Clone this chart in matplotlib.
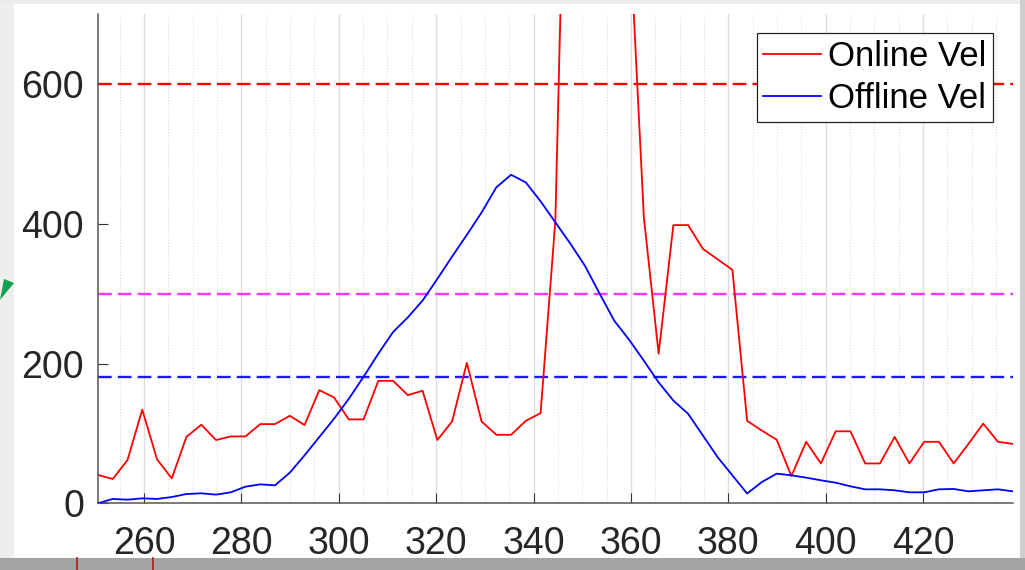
import matplotlib
matplotlib.use('Agg')
import matplotlib.pyplot as plt
from matplotlib.patches import Rectangle, Polygon
from matplotlib.lines import Line2D
from matplotlib.ticker import MultipleLocator

plt.rcParams['font.family'] = ['Liberation Sans', 'DejaVu Sans']

# sample positions
x = [250.55, 253.58, 256.61, 259.64, 262.67, 265.70, 268.73, 271.76, 274.79, 277.82,
     280.85, 283.88, 286.91, 289.94, 292.97, 296.00, 299.03, 302.06, 305.09, 308.12,
     311.15, 314.18, 317.21, 320.24, 323.27, 326.30, 329.33, 332.36, 335.39, 338.42,
     341.45, 344.48, 347.51, 350.54, 353.57, 356.60, 359.63, 362.66, 365.69, 368.72,
     371.75, 374.78, 377.81, 380.84, 383.87, 386.90, 389.93, 392.96, 395.99, 399.02,
     402.05, 405.08, 408.11, 411.14, 414.17, 417.20, 420.23, 423.26, 426.29, 429.32,
     432.35, 435.38, 438.41]

online_vel = [40.5, 34.8, 61.9, 134, 62.9, 35.7, 95.2, 112.4, 90.5, 95.7,
              95.7, 113.3, 113.3, 125.2, 111.9, 161.9, 151.4, 120, 120, 175.2,
              175.2, 154.8, 161, 90.5, 117, 201, 117, 98, 98, 118,
              129, 404, 1270, 1500, 1450, 1200, 835, 409, 214, 398,
              398, 364, 349, 334, 118, 104, 91, 39, 88, 57,
              103, 103, 57, 57, 95, 57, 88, 88, 57, 85,
              114, 88, 85]

offline_vel = [0, 6.2, 5.2, 7.1, 6.2, 9, 13.3, 14.3, 12.4, 15.7,
               23.8, 27.1, 25.7, 43.8, 68.6, 94.8, 121, 149.5, 181, 214,
               245, 266, 290, 321, 353, 384, 416, 452, 470, 459,
               432, 402, 372, 340, 300, 261, 234, 204, 173, 147,
               128, 97, 66, 40, 14, 30.5, 42.4, 40, 36.7, 32.9,
               29.5, 24.3, 20, 20, 18.6, 15.7, 15.7, 20, 20.5, 17.1,
               18.6, 20, 17.1]

# threshold lines
thresholds = [600, 300, 180]
threshold_colors = ['#ff0000', '#ff33ff', '#1a1aff']

fig = plt.figure(figsize=(10.25, 5.70), dpi=100, facecolor='white')

# screenshot frame bits
fig.patches.append(Rectangle((0, 0), 14 / 1025, 1, transform=fig.transFigure,
                             facecolor='#eeeeee', edgecolor='none', zorder=0))
fig.patches.append(Rectangle((0, 1 - 4 / 570), 1, 4 / 570, transform=fig.transFigure,
                             facecolor='#ececec', edgecolor='none', zorder=0))
fig.patches.append(Rectangle((1020 / 1025, 0), 5 / 1025, 1, transform=fig.transFigure,
                             facecolor='#cfcfcf', edgecolor='none', zorder=0))
fig.patches.append(Rectangle((0, 0), 1, 12 / 570, transform=fig.transFigure,
                             facecolor='#a3a3a3', edgecolor='none', zorder=0))
for px in [77, 153]:
    fig.lines.append(Line2D([px / 1025, px / 1025], [0, 12 / 570], transform=fig.transFigure,
                            color='#b01818', lw=1.2))
fig.patches.append(Polygon([(0, 1 - 300 / 570), (14 / 1025, 1 - 283 / 570), (4 / 1025, 1 - 279 / 570)],
                           closed=True, transform=fig.transFigure, facecolor='#12a050',
                           edgecolor='none'))

ax = fig.add_axes([98 / 1025, 1 - 503.3 / 570, (1012.7 - 98) / 1025, (503.3 - 14) / 570])

for v, c in zip(thresholds, threshold_colors):
    ax.axhline(v, color=c, lw=1.7, dashes=(5.8, 2.6), zorder=2)

ax.plot(x, online_vel, color='#ff0000', lw=1.3, label='Online Vel', zorder=3)
ax.plot(x, offline_vel, color='#0000ff', lw=1.3, label='Offline Vel', zorder=3)

ax.set_xlim(250.55, 438.41)
ax.set_ylim(0, 700)
ax.xaxis.set_major_locator(MultipleLocator(20))
ax.xaxis.set_minor_locator(MultipleLocator(5))
ax.set_yticks([0, 200, 400, 600])

ax.grid(True, which='major', axis='x', color='#dcdcdc', lw=0.9)
ax.grid(True, which='minor', axis='x', color='#d4d4d4', lw=0.7, ls=(0, (1, 2)))
ax.set_axisbelow(True)

for s in ['top', 'right']:
    ax.spines[s].set_visible(False)
for s in ['left', 'bottom']:
    ax.spines[s].set_color('#555555')
    ax.spines[s].set_linewidth(1.1)

ax.tick_params(axis='both', which='major', direction='in', length=7, width=0.8,
               color='#333333', labelsize=27, labelcolor='#262626')
ax.tick_params(axis='both', which='minor', length=0)
ax.tick_params(axis='x', pad=16)
ax.tick_params(axis='y', pad=10)

leg = ax.legend(loc='upper right', bbox_to_anchor=(0.9785, 0.961), fontsize=25,
                frameon=True, fancybox=False, handlelength=1.65, handletextpad=0.2,
                borderpad=0.2, labelspacing=0.25, borderaxespad=0)
leg.get_frame().set_edgecolor('#222222')
leg.get_frame().set_linewidth(0.9)
leg.get_frame().set_alpha(1)

fig.savefig('out.png', dpi=100, facecolor=fig.get_facecolor())
